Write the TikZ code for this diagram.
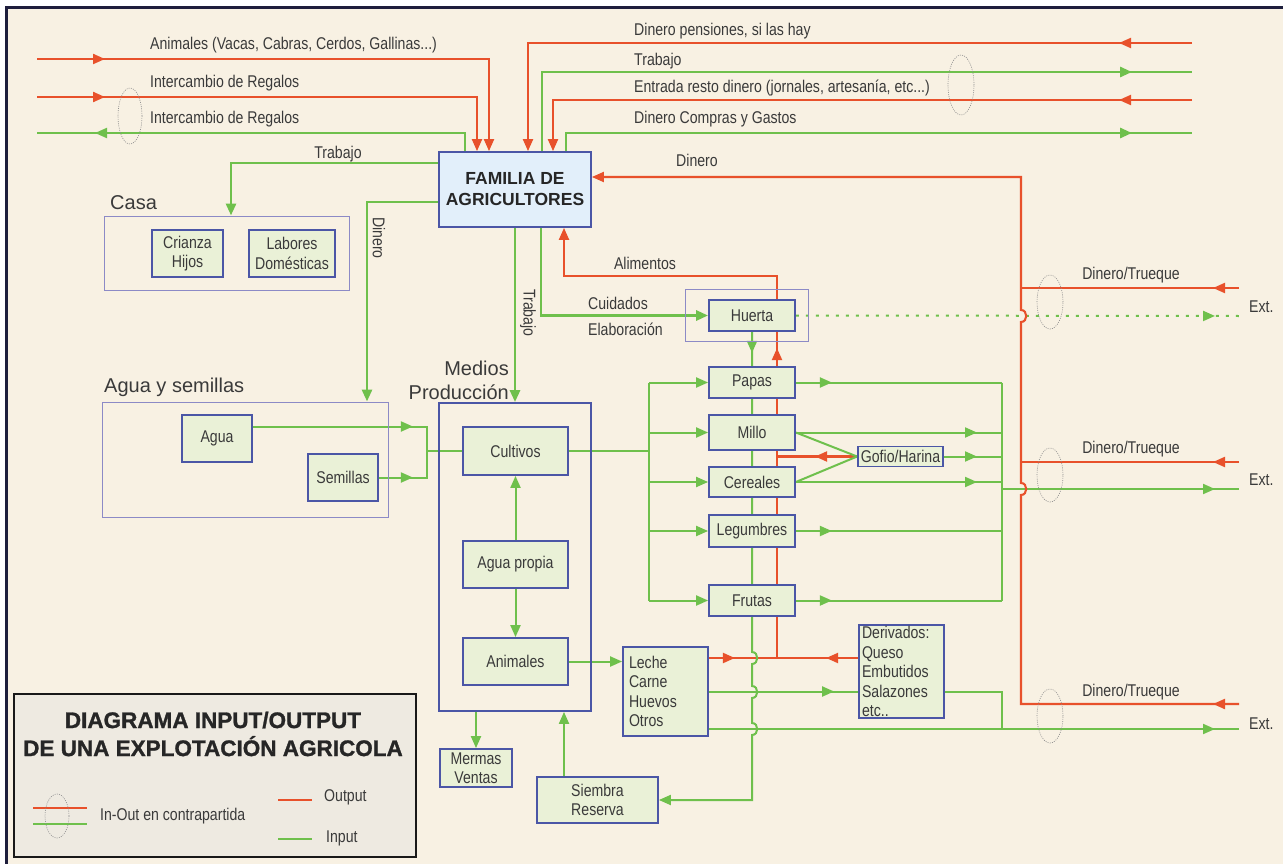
\documentclass[tikz,border=0pt]{standalone}
\usepackage{fontspec}
\setmainfont{Liberation Sans}
\newfontfamily\narrowsans{Liberation Sans}[FakeStretch=0.83]
\newfontfamily\heavysans{Liberation Sans Bold}[FakeBold=1.2]
\usepackage{tikz}
\usetikzlibrary{arrows.meta,decorations.markings}

\definecolor{cream}{HTML}{F8F1E3}
\definecolor{framec}{HTML}{1E1E3C}
\definecolor{lred}{HTML}{E8512B}
\definecolor{lgreen}{HTML}{6FC04C}
\definecolor{boxblue}{HTML}{4B56A6}
\definecolor{boxfill}{HTML}{EAF1D7}
\definecolor{famfill}{HTML}{E2EFFA}
\definecolor{zoneblue}{HTML}{8C8AC6}
\definecolor{txtgray}{HTML}{3A3A3A}
\definecolor{legfill}{HTML}{EEEAE1}

\pgfdeclarelayer{back}
\pgfdeclarelayer{wires}
\pgfsetlayers{back,wires,main}

\tikzset{
  >={Triangle[length=12pt,width=10pt]},
  lbl/.style={font=\narrowsans\fontsize{17}{19.5}\selectfont, text=txtgray, inner sep=0pt},
  big/.style={font=\normalfont\fontsize{20}{24}\selectfont, text=txtgray, inner sep=0pt},
  box/.style={lbl, draw=boxblue, fill=boxfill, line width=1.8pt, align=center},
  zone/.style={draw=zoneblue, line width=1pt, inner sep=0pt},
  gl/.style={draw=lgreen, line width=2pt},
  gthick/.style={draw=lgreen, line width=2.8pt},
  rl/.style={draw=lred, line width=2.1pt},
  mid/.style={postaction={decorate,decoration={markings,mark=at position #1 with {\arrow{>}}}}},
  ring/.style={draw=black!45, line width=0.6pt, dash pattern=on 1pt off 1.2pt},
}

\begin{document}
\begin{tikzpicture}[x=1pt,y=-1pt]
    \useasboundingbox (0,0) rectangle (1283,864);
    \begin{pgfonlayer}{back}
        \fill[white] (0,0) rectangle (1283,864);
        \draw[draw=framec, fill=cream, line width=3pt] (6,8) rectangle (1295,875);
    \end{pgfonlayer}

    \node[box, fill=famfill, text=black!85, font=\normalfont\bfseries\fontsize{17.5}{21}\selectfont, minimum width=152pt, minimum height=75pt] (fam) at (515,189.5) {FAMILIA DE\\AGRICULTORES};

    \node[zone, minimum width=245pt, minimum height=74pt] (casa) at (226.5,253) {};
    \node[big, anchor=west] (casalbl) at (110,203) {Casa};
    \node[box, minimum width=71pt, minimum height=47pt] (crianza) at (187.5,253.5) {Crianza\\Hijos};
    \node[box, minimum width=86pt, minimum height=47pt] (labores) at (292,253.5) {Labores\\Domésticas};

    \node[zone, minimum width=286pt, minimum height=115pt] (aguasem) at (245,459.5) {};
    \node[big, anchor=west] (aguasemlbl) at (104,387) {Agua y semillas};
    \node[box, minimum width=70pt, minimum height=47pt] (agua) at (217,438.5) {Agua};
    \node[box, minimum width=70pt, minimum height=47pt] (semillas) at (343,477.5) {Semillas};

    \node[zone, draw=boxblue, line width=1.8pt, minimum width=152pt, minimum height=308pt] (medios) at (515,557) {};
    \node[big, anchor=east, align=right] (medioslbl) at (509,380) {Medios\\Producción};
    \node[box, minimum width=105pt, minimum height=48pt] (cultivos) at (515.5,451) {Cultivos};
    \node[box, minimum width=105pt, minimum height=47pt] (aguapropia) at (515.5,564.5) {Agua propia};
    \node[box, minimum width=105pt, minimum height=47pt] (animales) at (515.5,661.5) {Animales};

    \node[zone, minimum width=123pt, minimum height=52pt] (huertazone) at (746.5,315) {};
    \node[box, minimum width=86pt, minimum height=31pt] (huerta) at (752,315.5) {Huerta};
    \node[box, minimum width=86pt, minimum height=31pt] (papas) at (752,382.5) {Papas};
    \node[box, minimum width=86pt, minimum height=35pt] (millo) at (752,432.5) {Millo};
    \node[box, minimum width=86pt, minimum height=30pt] (cereales) at (752,482) {Cereales};
    \node[box, minimum width=86pt, minimum height=32pt] (legumbres) at (752,531) {Legumbres};
    \node[box, minimum width=86pt, minimum height=31pt] (frutas) at (752,600.5) {Frutas};
    \node[box, minimum width=85pt, minimum height=20pt] (gofio) at (900.5,456.5) {Gofio/Harina};

    \node[box, align=left, text width=73pt, minimum width=85pt, minimum height=89pt] (leche) at (665.5,691.5) {Leche\\Carne\\Huevos\\Otros};
    \node[box, align=left, text width=79pt, minimum width=85pt, minimum height=93pt] (derivados) at (901.5,671.5) {Derivados:\\Queso\\Embutidos\\Salazones\\etc..};
    \node[box, minimum width=72pt, minimum height=38pt, font=\narrowsans\fontsize{17}{18.5}\selectfont] (mermas) at (476,768) {Mermas\\Ventas};
    \node[box, minimum width=121pt, minimum height=46pt] (siembra) at (597.5,800) {Siembra\\Reserva};

    \node[lbl, anchor=west] (t1) at (150,45) {Animales (Vacas, Cabras, Cerdos, Gallinas...)};
    \node[lbl, anchor=west] (t2) at (150,83) {Intercambio de Regalos};
    \node[lbl, anchor=west] (t3) at (150,119) {Intercambio de Regalos};
    \node[lbl] (t4) at (338,154) {Trabajo};
    \node[lbl, anchor=west] (t5) at (634,31) {Dinero pensiones, si las hay};
    \node[lbl, anchor=west] (t6) at (634,61) {Trabajo};
    \node[lbl, anchor=west] (t7) at (634,88) {Entrada resto dinero (jornales, artesanía, etc...)};
    \node[lbl, anchor=west] (t8) at (634,119) {Dinero Compras y Gastos};
    \node[lbl] (t9) at (697,160) {Dinero};
    \node[lbl, rotate=-90] (t10) at (379,238) {Dinero};
    \node[lbl, rotate=-90] (t11) at (528,313) {Trabajo};
    \node[lbl] (t12) at (645,263) {Alimentos};
    \node[lbl, anchor=west] (t13) at (588,303) {Cuidados};
    \node[lbl, anchor=west] (t14) at (588,329) {Elaboración};
    \node[lbl] (t15) at (1131,275) {Dinero/Trueque};
    \node[lbl] (t16) at (1131,449) {Dinero/Trueque};
    \node[lbl] (t17) at (1131,692) {Dinero/Trueque};
    \node[lbl, anchor=west] (t18) at (1249,307) {Ext.};
    \node[lbl, anchor=west] (t19) at (1249,480) {Ext.};
    \node[lbl, anchor=west] (t20) at (1249,724) {Ext.};

    \coordinate (wa) at (37,59);
    \coordinate (wb) at (37,97);
    \coordinate (wc) at (37,133);
    \coordinate (ea) at (1192,43);
    \coordinate (eb) at (1192,72);
    \coordinate (ec) at (1192,100);
    \coordinate (ed) at (1192,133);
    \coordinate (ya) at (1239,288);
    \coordinate (yb) at (1239,462);
    \coordinate (yc) at (1239,704);
    \coordinate (xa) at (1239,316);
    \coordinate (xb) at (1239,489);
    \coordinate (xc) at (1239,729);
    \coordinate (rr) at (1021,177);
    \coordinate (rv) at (777,658);
    \coordinate (cl) at (649,451);
    \coordinate (cr) at (1002,489);
    \coordinate (aj) at (427,451);
    \coordinate (sb) at ([xshift=-33.5pt]siembra.north);

    \begin{pgfonlayer}{wires}
    \draw[rl,->,mid=68pt] (wa) -| ([xshift=-26pt]fam.north);
    \draw[rl,->,mid=68pt] (wb) -| ([xshift=-38pt]fam.north);
    \draw[gl,mid=-58pt] ([xshift=-50pt]fam.north) |- (wc);
    \draw[rl,->,mid=73pt] (ea) -| ([xshift=13pt]fam.north);
    \draw[gthick,mid=-60pt] ([xshift=27pt]fam.north) |- (eb);
    \draw[rl,->,mid=73pt] (ec) -| ([xshift=38pt]fam.north);
    \draw[gthick,mid=-60pt] ([xshift=51pt]fam.north) |- (ed);

    \draw[gthick,->] ([yshift=26.5pt]fam.west) -| ([xshift=4.5pt]casa.north);
    \draw[gthick,->] ([yshift=-12.5pt]fam.west) -| ([xshift=122pt]aguasem.north);
    \draw[gthick,->] (fam.south) -- (medios.north);
    \draw[gthick,->] ([xshift=26pt]fam.south) |- (huerta.west);

    \draw[rl,->,mid=26pt,mid=378pt] ([yshift=33.5pt]leche.east) -- (rv) -- (777,276) -| ([xshift=49pt]fam.south);
    \draw[rl,mid=32pt] ([yshift=13.5pt]derivados.west) -- (rv);
    \draw[rl,mid=42pt] (gofio.west) -- (gofio.west -| rv);

    \draw[gl,->,mid=21pt] (huerta.south) -- (752,652) .. controls (759,652) and (759,664) .. (752,664)
        -- (752,686) .. controls (759,686) and (759,698) .. (752,698)
        -- (752,723) .. controls (759,723) and (759,735) .. (752,735) |- (siembra.east);

    \draw[gl] (cultivos.east) -- (cl);
    \draw[gl] (cl |- papas.west) -- (cl |- frutas.west);
    \foreach \b in {papas,millo,cereales,legumbres,frutas}
        \draw[gl,->] (cl |- \b.west) -- (\b.west);
    \draw[gl] (cr |- papas.east) -- (cr |- frutas.east);
    \foreach \b in {papas,legumbres,frutas}
        \draw[gl,mid=36pt] (\b.east) -- (cr |- \b.east);
    \foreach \b in {millo,gofio,cereales}
        \draw[gl,mid=-25pt] (\b.east) -- (cr |- \b.east);
    \draw[gl] (millo.east) -- (gofio.west);
    \draw[gl] (cereales.east) -- (gofio.west);

    \draw[gl,dash pattern=on 3pt off 7pt,mid=-24pt] (huerta.east) -- (xa);
    \draw[gl,mid=-24pt] (cr) -- (xb);
    \draw[gl,mid=-24pt] ([yshift=-37.5pt]leche.east) -- (xc);
    \draw[gl,mid=-24pt] (leche.east) -- (leche.east -| derivados.west);
    \draw[gl] (derivados.east |- leche.east) -| (cr |- xc);

    \draw[rl,->,mid=26pt] (yc) -- (1021,704) -- (1021,495) .. controls (1028,495) and (1028,483) .. (1021,483)
        -- (1021,322) .. controls (1028,322) and (1028,310) .. (1021,310) |- ([yshift=12.5pt]fam.east);
    \draw[rl,mid=26pt] (ya) -- (ya -| rr);
    \draw[rl,mid=26pt] (yb) -- (yb -| rr);

    \draw[gl,mid=160pt] ([yshift=12pt]agua.east) -| (aj);
    \draw[gl,mid=34pt] (semillas.east) -| (aj);
    \draw[gl] (aj) -- (cultivos.west);
    \draw[gl,->] (aguapropia.north) -- (cultivos.south);
    \draw[gl,->] (aguapropia.south) -- (animales.north);
    \draw[gl,->] (animales.east) -- (animales.east -| leche.west);
    \draw[gl,->] (medios.south -| mermas.north) -- (mermas.north);
    \draw[gl,->] (sb) -- (sb |- medios.south);

    \draw[ring] (130,116) ellipse [x radius=12pt, y radius=28pt];
    \draw[ring] (961,85) ellipse [x radius=13pt, y radius=30pt];
    \draw[ring] (1050,302) ellipse [x radius=13pt, y radius=27pt];
    \draw[ring] (1050,475) ellipse [x radius=13pt, y radius=27pt];
    \draw[ring] (1050,716) ellipse [x radius=13pt, y radius=27pt];
    \end{pgfonlayer}

    \node[draw=black!90, fill=legfill, line width=2.5pt, inner sep=0pt, minimum width=402pt, minimum height=163pt] (legend) at (215,775.5) {};
    \node[font=\heavysans\fontsize{22.5}{28}\selectfont, align=center, text=black!85, inner sep=0pt] (title) at (213,734) {DIAGRAMA INPUT/OUTPUT\\DE UNA EXPLOTACIÓN AGRICOLA};
    \draw[rl] (33,808) -- (87,808);
    \draw[gl] (33,824) -- (87,824);
    \draw[ring] (57,816) ellipse [x radius=12pt, y radius=22pt];
    \node[lbl, anchor=west] (inout) at (100,816) {In-Out en contrapartida};
    \draw[rl] (278,800) -- (312,800);
    \node[lbl, anchor=west] (outlbl) at (324,797) {Output};
    \draw[gl] (278,839) -- (312,839);
    \node[lbl, anchor=west] (inlbl) at (326,838) {Input};
\end{tikzpicture}
\end{document}
